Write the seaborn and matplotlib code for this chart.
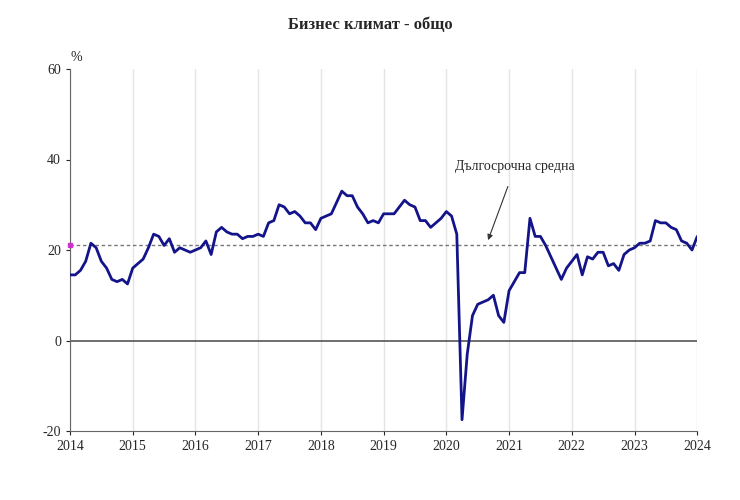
import numpy as np
import pandas as pd
import seaborn as sns
import matplotlib
matplotlib.use('Agg')
import matplotlib.pyplot as plt

# monthly business climate values, Jan 2014 - Jan 2024
climate = [
    14.5, 14.5, 15.5, 17.5, 21.5, 20.5, 17.5, 16, 13.5, 13, 13.5, 12.5,
    16, 17, 18, 20.5, 23.5, 23, 21, 22.5, 19.5, 20.5, 20, 19.5,
    20, 20.5, 22, 19, 24, 25, 24, 23.5, 23.5, 22.5, 23, 23,
    23.5, 23, 26, 26.5, 30, 29.5, 28, 28.5, 27.5, 26, 26, 24.5,
    27, 27.5, 28, 30.5, 33, 32, 32, 29.5, 28, 26, 26.5, 26,
    28, 28, 28, 29.5, 31, 30, 29.5, 26.5, 26.5, 25, 26, 27,
    28.5, 27.5, 23.5, -17.5, -3, 5.5, 8, 8.5, 9, 10, 5.5, 4,
    11, 13, 15, 15, 27, 23, 23, 21, 18.5, 16, 13.5, 16,
    17.5, 19, 14.5, 18.5, 18, 19.5, 19.5, 16.5, 17, 15.5, 19, 20,
    20.5, 21.5, 21.5, 22, 26.5, 26, 26, 25, 24.5, 22, 21.5, 20,
    23,
]
long_term_avg = 21.1
years = list(range(2014, 2025))

df = pd.DataFrame({'t': 2014 + np.arange(len(climate)) / 12, 'value': climate})

sns.set_style('white')
plt.rcParams['font.family'] = ['Liberation Serif', 'DejaVu Serif']
plt.rcParams['axes.unicode_minus'] = False

fig = plt.figure(figsize=(7.4, 5.0), dpi=100)
ax = fig.add_axes([0.0946, 0.138, 0.8476, 0.724])

for y in years:
    ax.axvline(y, color='#e4e4e4', lw=1, zorder=0)
ax.axhline(0, color='#555555', lw=1.2, zorder=1)
ax.axhline(long_term_avg, color='#777777', lw=1, ls=(0, (2.5, 2)), zorder=1)
sns.lineplot(data=df, x='t', y='value', ax=ax, color='#14148a', lw=2, zorder=3)
ax.plot([2014], [long_term_avg], marker='s', ms=3, color='#cc33cc', clip_on=False, zorder=4)

ax.set_xlim(2014, 2024)
ax.set_ylim(-20, 60)
ax.set_xticks(years)
ax.set_yticks([-20, 0, 20, 40, 60])
ax.tick_params(labelsize=10, length=3, direction='out', left=True, bottom=True)
ax.set_xlabel('')
ax.set_ylabel('')
for s in ['top', 'right']:
    ax.spines[s].set_visible(False)
for s in ['left', 'bottom']:
    ax.spines[s].set_color('#666666')

ax.text(0.0, 1.015, '%', transform=ax.transAxes, fontsize=10, ha='left', va='bottom')
ax.annotate('Дългосрочна средна', xy=(2020.65, long_term_avg + 0.5), xytext=(2021.1, 38.5),
            fontsize=10, ha='center', va='center',
            arrowprops=dict(arrowstyle='-|>', color='#333333', lw=0.8, mutation_scale=8,
                            shrinkA=8))

fig.suptitle('Бизнес климат - общо', y=0.965, fontsize=12, fontweight='bold')
fig.savefig('out.png', dpi=100)
